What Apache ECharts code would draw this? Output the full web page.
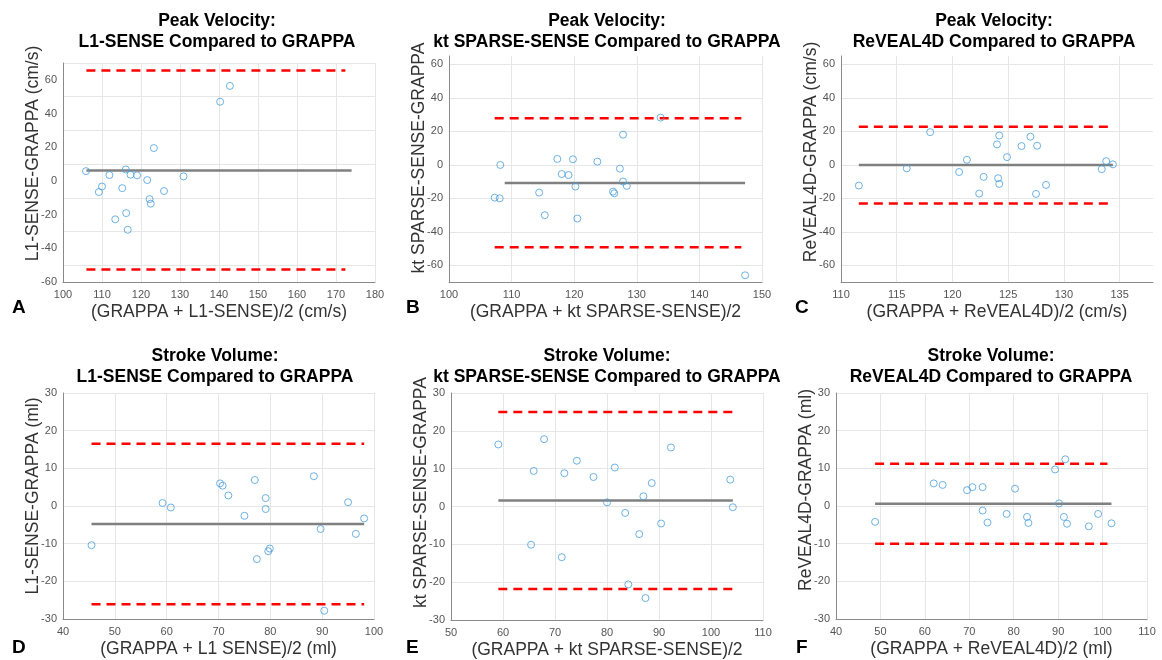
<!DOCTYPE html>
<html>
<head>
<meta charset="utf-8">
<script src="https://cdn.jsdelivr.net/npm/echarts@6/dist/echarts.min.js"></script>
<style>
  html, body { margin: 0; background: #fff; }
  #main { width: 1162px; height: 660px; }
</style>
</head>
<body>
<div id="main"></div>
<script>
// A - peak velocity, L1-SENSE vs GRAPPA
const pvL1Avg = [105.9, 109.2, 110.0, 111.9, 113.4, 115.2, 116.1, 116.2, 116.6, 117.3, 119.0, 121.6, 122.2, 122.5, 123.3, 125.9, 130.9, 140.3, 142.8]
const pvL1Diff = [5.8, -6.6, -3.3, 3.5, -22.8, -4.3, 6.8, -19.1, -29.0, 3.7, 3.3, 0.5, -10.8, -13.5, 19.5, -6.0, 2.7, 47.0, 56.4]
const pvL1Stats = [6.2, 65.6, -52.6] // bias, upper, lower
const pvL1MeanSpan = [106, 174]
const pvL1LimSpan = [106, 172.4]

// B - peak velocity, kt SPARSE-SENSE vs GRAPPA
const pvKtAvg = [107.3, 108.1, 108.2, 114.4, 115.3, 117.3, 118.0, 119.1, 119.8, 120.2, 120.5, 123.7, 126.2, 126.4, 127.3, 127.8, 127.8, 128.4, 133.8, 147.3]
const pvKtDiff = [-19.6, -20.0, -0.1, -16.6, -30.1, 3.5, -5.5, -6.1, 3.3, -13.0, -32.1, 1.9, -16.0, -17.0, -2.3, 18.0, -10.0, -12.6, 28.2, -66.0]
const pvKtStats = [-10.8, 27.8, -49.3]
const pvKtMeanSpan = [108.9, 147.3]
const pvKtLimSpan = [107.3, 146.7]

// C - peak velocity, ReVEAL4D vs GRAPPA
const pvRvAvg = [111.6, 115.9, 118.0, 120.6, 121.3, 122.4, 122.8, 124.0, 124.2, 124.1, 124.2, 124.9, 126.2, 127.0, 127.5, 127.6, 128.4, 133.4, 133.8, 134.4]
const pvRvDiff = [-12.4, -2.1, 19.5, -4.3, 3.0, -17.2, -7.2, 12.2, 17.5, -8.0, -11.4, 4.6, 11.2, 16.8, -17.4, 11.4, -12.0, -2.6, 2.2, 0.3]
const pvRvStats = [-0.1, 22.7, -23.1]
const pvRvMeanSpan = [111.6, 134.4]
const pvRvLimSpan = [111.6, 134.4]

// D - stroke volume, L1-SENSE vs GRAPPA
const svL1Avg = [45.5, 59.2, 60.8, 70.3, 70.8, 71.9, 75.0, 77.0, 77.4, 79.1, 79.1, 79.6, 79.9, 88.4, 89.7, 90.4, 95.0, 96.5, 98.1]
const svL1Diff = [-10.4, 0.8, -0.4, 6.0, 5.4, 2.8, -2.6, 6.9, -14.1, 2.1, -0.8, -12.0, -11.3, 7.9, -6.1, -27.8, 1.0, -7.4, -3.3]
const svL1Stats = [-4.8, 16.5, -26.1]
const svL1MeanSpan = [45.5, 98.1]
const svL1LimSpan = [45.5, 98.1]

// E - stroke volume, kt SPARSE-SENSE vs GRAPPA
const svKtAvg = [59.1, 65.9, 65.4, 67.9, 71.8, 71.3, 74.2, 77.4, 80.0, 81.5, 83.5, 84.1, 86.2, 87.0, 87.4, 88.6, 90.4, 92.3, 103.7, 104.2]
const svKtDiff = [16.4, 9.4, -10.1, 17.8, 8.8, -13.4, 12.1, 7.8, 1.1, 10.3, -1.7, -20.6, -7.3, 2.7, -24.2, 6.2, -4.5, 15.6, 7.1, -0.2]
const svKtStats = [1.6, 25.0, -21.8]
const svKtMeanSpan = [59.1, 104.2]
const svKtLimSpan = [59.1, 104.2]

// F - stroke volume, ReVEAL4D vs GRAPPA
const svRvAvg = [48.8, 62.0, 64.0, 69.5, 70.7, 73.0, 73.0, 74.1, 78.4, 80.3, 83.0, 83.3, 89.3, 90.2, 91.3, 91.6, 92.0, 96.9, 99.0, 102.0]
const svRvDiff = [-4.2, 6.0, 5.6, 4.2, 5.0, 5.0, -1.2, -4.4, -2.1, 4.6, -2.9, -4.5, 9.7, 0.7, -2.9, 12.4, -4.7, -5.4, -2.1, -4.6]
const svRvStats = [0.6, 11.2, -10.0]
const svRvMeanSpan = [48.8, 102.0]
const svRvLimSpan = [48.8, 101.1]

const FONT = '"Liberation Sans", Arial, Helvetica, sans-serif'
const GRID_C = '#e6e6e6'
const NONE = 'rgba(0,0,0,0)'

const panels = [
  { letter: 'A', avg: pvL1Avg, diff: pvL1Diff, stats: pvL1Stats, meanSpan: pvL1MeanSpan, limSpan: pvL1LimSpan,
    grid: { left: 63, top: 63, width: 312, height: 219 },
    x: [100, 180, 10], y: [-60, 70, 10], yLab: 20, splitColors: [NONE, GRID_C],
    title: 'Peak Velocity:\nL1-SENSE Compared to GRAPPA', titleX: 212, titleY: 6,
    xName: '(GRAPPA + L1-SENSE)/2 (cm/s)', yName: 'L1-SENSE-GRAPPA (cm/s)', yShift: 19,
    letterPos: [12, 298] },
  { letter: 'B', avg: pvKtAvg, diff: pvKtDiff, stats: pvKtStats, meanSpan: pvKtMeanSpan, limSpan: pvKtLimSpan,
    grid: { left: 449, top: 56, width: 313, height: 226 },
    x: [100, 150, 10], y: [-70, 65, 10], yLab: 20, splitColors: [NONE, GRID_C],
    title: 'Peak Velocity:\nkt SPARSE-SENSE Compared to GRAPPA', titleX: 602, titleY: 6,
    xName: '(GRAPPA + kt SPARSE-SENSE)/2', yName: 'kt SPARSE-SENSE-GRAPPA', yShift: 11,
    letterPos: [406, 298] },
  { letter: 'C', avg: pvRvAvg, diff: pvRvDiff, stats: pvRvStats, meanSpan: pvRvMeanSpan, limSpan: pvRvLimSpan,
    grid: { left: 841, top: 56, width: 312, height: 226 },
    x: [110, 138, 5], y: [-70, 65, 10], yLab: 20, splitColors: [NONE, GRID_C], noMaxX: true,
    title: 'Peak Velocity:\nReVEAL4D Compared to GRAPPA', titleX: 989, titleY: 6,
    xName: '(GRAPPA + ReVEAL4D)/2 (cm/s)', yName: 'ReVEAL4D-GRAPPA (cm/s)', yShift: 17,
    letterPos: [795, 298] },
  { letter: 'D', avg: svL1Avg, diff: svL1Diff, stats: svL1Stats, meanSpan: svL1MeanSpan, limSpan: svL1LimSpan,
    grid: { left: 63, top: 393, width: 311, height: 226 },
    x: [40, 100, 10], y: [-30, 30, 10], yLab: 10, splitColors: [GRID_C],
    title: 'Stroke Volume:\nL1-SENSE Compared to GRAPPA', titleX: 210, titleY: 341,
    xName: '(GRAPPA + L1 SENSE)/2 (ml)', yName: 'L1-SENSE-GRAPPA (ml)', yShift: 10,
    letterPos: [12, 638] },
  { letter: 'E', avg: svKtAvg, diff: svKtDiff, stats: svKtStats, meanSpan: svKtMeanSpan, limSpan: svKtLimSpan,
    grid: { left: 451, top: 393, width: 312, height: 227 },
    x: [50, 110, 10], y: [-30, 30, 10], yLab: 10, splitColors: [GRID_C],
    title: 'Stroke Volume:\nkt SPARSE-SENSE Compared to GRAPPA', titleX: 602, titleY: 341,
    xName: '(GRAPPA + kt SPARSE-SENSE)/2', yName: 'kt SPARSE-SENSE-GRAPPA', yShift: 14,
    letterPos: [406, 638] },
  { letter: 'F', avg: svRvAvg, diff: svRvDiff, stats: svRvStats, meanSpan: svRvMeanSpan, limSpan: svRvLimSpan,
    grid: { left: 836, top: 393, width: 311, height: 226 },
    x: [40, 110, 10], y: [-30, 30, 10], yLab: 10, splitColors: [GRID_C],
    title: 'Stroke Volume:\nReVEAL4D Compared to GRAPPA', titleX: 986, titleY: 341,
    xName: '(GRAPPA + ReVEAL4D)/2 (ml)', yName: 'ReVEAL4D-GRAPPA (ml)', yShift: 16,
    letterPos: [796, 638] }
]

const axisLine = { show: true, onZero: false, lineStyle: { color: '#8a8a8a', width: 1 } }
const tickLabel = { color: '#555', fontSize: 11, fontFamily: FONT }
const nameStyle = { color: '#333', fontSize: 17.5, fontFamily: FONT }

let grids = [], xAxes = [], yAxes = [], series = [], titles = [], graphics = []

panels.forEach((p, i) => {
  grids.push(Object.assign({ containLabel: false }, p.grid))
  titles.push({
    text: p.title, left: p.titleX, top: p.titleY, textAlign: 'center',
    textStyle: { fontFamily: FONT, fontSize: 17.5, fontWeight: 'bold', color: '#000', lineHeight: 21 }
  })
  xAxes.push({
    type: 'value', gridIndex: i, min: p.x[0], max: p.x[1], interval: p.x[2],
    name: p.xName, nameLocation: 'middle', nameGap: 21, nameMoveOverlap: false, nameTextStyle: nameStyle,
    axisLine: axisLine, axisTick: { show: false },
    axisLabel: Object.assign({ margin: 7, formatter: v => (v % p.x[2] === 0 ? v : '') }, tickLabel),
    splitLine: { show: true, showMaxLine: !p.noMaxX, lineStyle: { color: GRID_C, width: 1 } }
  })
  yAxes.push({
    type: 'value', gridIndex: i, min: p.y[0], max: p.y[1], interval: p.y[2],
    name: p.yName, nameLocation: 'middle', nameGap: 21, nameMoveOverlap: false,
    nameTextStyle: Object.assign({ padding: [0, 0, 0, p.yShift * 2] }, nameStyle),
    axisLine: axisLine, axisTick: { show: false },
    axisLabel: Object.assign({ margin: 6, formatter: v => (v % p.yLab === 0 ? v : '') }, tickLabel),
    splitLine: { show: true, lineStyle: { color: p.splitColors, width: 1 } }
  })
  series.push({
    type: 'scatter', xAxisIndex: i, yAxisIndex: i, z: 3,
    data: p.avg.map((v, k) => [v, p.diff[k]]),
    symbol: 'circle', symbolSize: 7,
    itemStyle: { color: NONE, borderColor: '#4a9fdc', borderWidth: 1 }
  })
  series.push({
    type: 'line', xAxisIndex: i, yAxisIndex: i, z: 2, symbol: 'none', silent: true,
    data: [[p.meanSpan[0], p.stats[0]], [p.meanSpan[1], p.stats[0]]],
    lineStyle: { color: '#808080', width: 2.5 }
  })
  ;[1, 2].forEach(k => {
    series.push({
      type: 'line', xAxisIndex: i, yAxisIndex: i, z: 2, symbol: 'none', silent: true,
      data: [[p.limSpan[0], p.stats[k]], [p.limSpan[1], p.stats[k]]],
      lineStyle: { color: '#ff0000', width: 2.5, type: [9, 6] }
    })
  })
  graphics.push({
    type: 'text', left: p.letterPos[0], top: p.letterPos[1],
    style: { text: p.letter, font: 'bold 19px ' + FONT, fill: '#000' }
  })
})

const myChart = echarts.init(document.getElementById('main'))
myChart.setOption({
  animation: false,
  backgroundColor: '#fff',
  title: titles,
  grid: grids,
  xAxis: xAxes,
  yAxis: yAxes,
  series: series,
  graphic: graphics
})
</script>
</body>
</html>
